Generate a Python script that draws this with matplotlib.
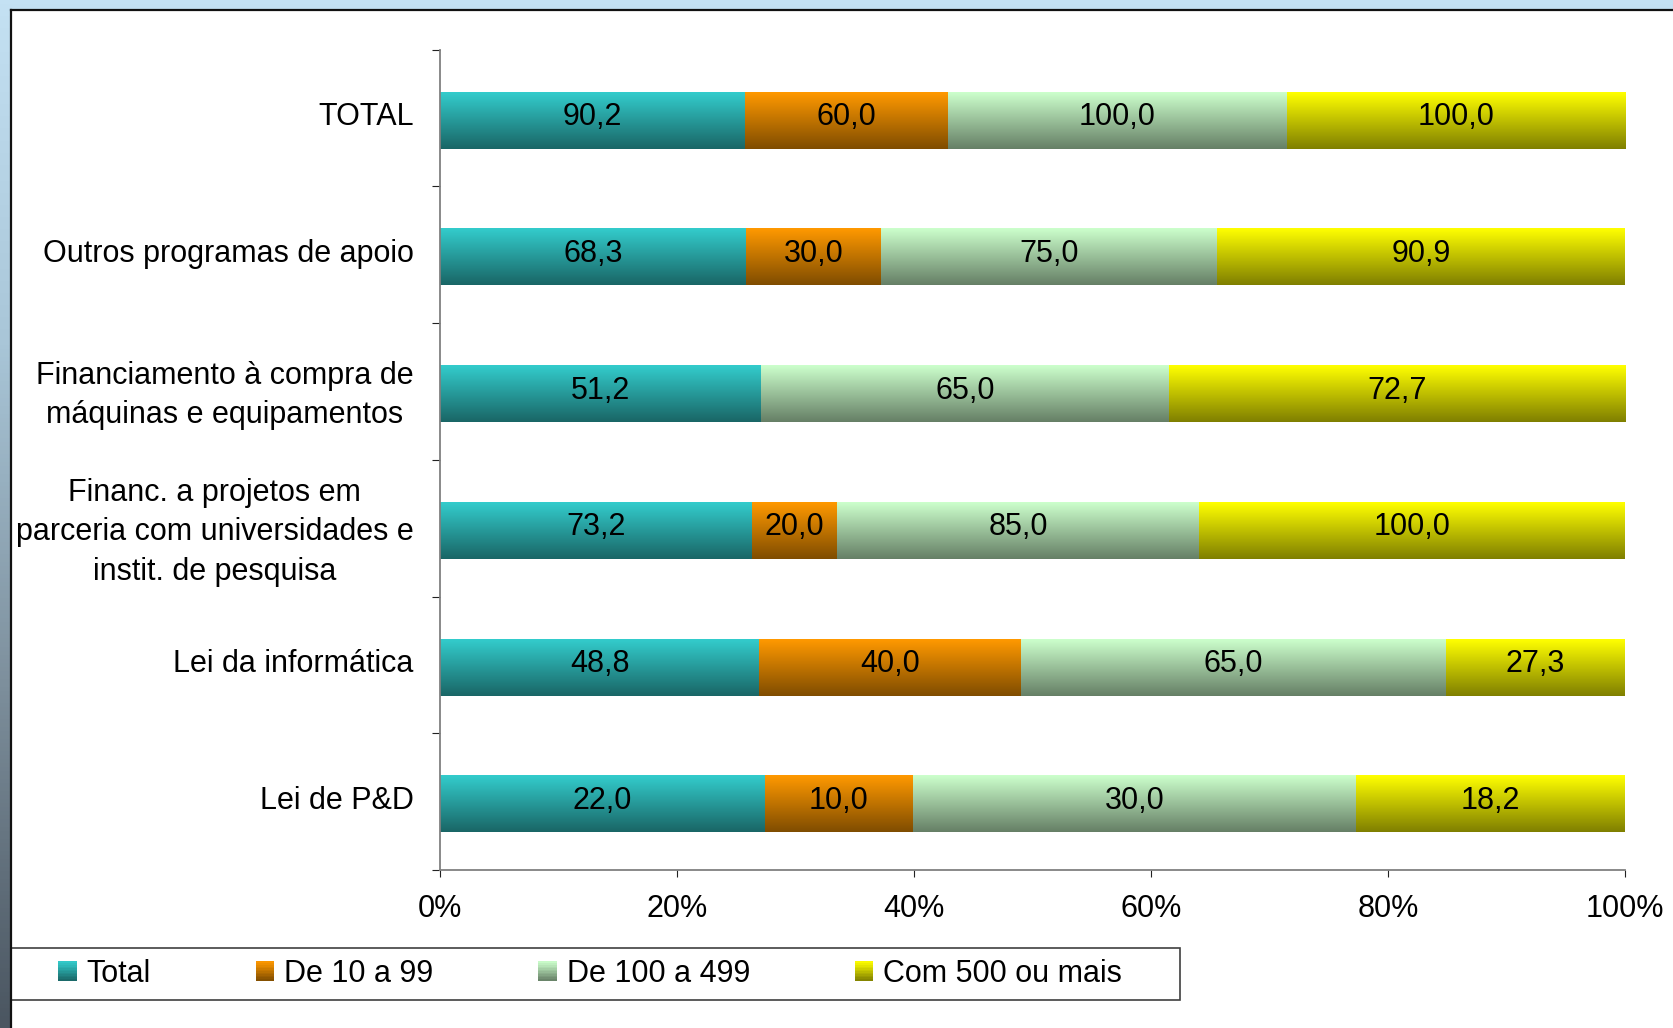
import numpy as np
import matplotlib
matplotlib.use("Agg")
from matplotlib import pyplot as plt, rcParams
from matplotlib.colors import to_rgb, LinearSegmentedColormap
from matplotlib.patches import Rectangle
from matplotlib.legend_handler import HandlerBase

rcParams["font.family"] = ["Liberation Sans", "DejaVu Sans"]
rcParams["font.size"] = 22

# dados (de baixo para cima)
categorias = [
    "Lei de P&D",
    "Lei da informática",
    "Financ. a projetos em\nparceria com universidades e\ninstit. de pesquisa",
    "Financiamento à compra de\nmáquinas e equipamentos",
    "Outros programas de apoio",
    "TOTAL",
]
series = ["Total", "De 10 a 99", "De 100 a 499", "Com 500 ou mais"]
v_total = [22.0, 48.8, 73.2, 51.2, 68.3, 90.2]
v_10_99 = [10.0, 40.0, 20.0, 0.0, 30.0, 60.0]
v_100_499 = [30.0, 65.0, 85.0, 65.0, 75.0, 100.0]
v_500 = [18.2, 27.3, 100.0, 72.7, 90.9, 100.0]
cores = ["#33CCCC", "#FF9900", "#CCFFCC", "#FFFF00"]

W, H = 1674, 1028
fig = plt.figure(figsize=(W / 100, H / 100), dpi=100)

# fundo com moldura
bg = fig.add_axes([0, 0, 1, 1], zorder=-10)
bg.set_axis_off()
cmap_bg = LinearSegmentedColormap.from_list("bg", ["#C4E1F3", "#A9C6D8", "#7D8F9C", "#4A5560"])
bg.imshow(np.linspace(0, 1, 256).reshape(-1, 1), cmap=cmap_bg, extent=(0, 1, 0, 1),
          aspect="auto", origin="upper")
fx, fy = 11 / W, (H - 10) / H
bg.add_patch(Rectangle((fx, 0), 1 - fx, fy, facecolor="white", edgecolor="none"))
bg.plot([fx, 1], [fy, fy], color="#111111", lw=1.6)
bg.plot([fx, fx], [0, fy], color="#111111", lw=1.6)
# caixa da legenda
lx0, lx1 = 11 / W, 1180 / W
ly0, ly1 = 1 - 1000 / H, 1 - 948 / H
bg.add_patch(Rectangle((lx0, ly0), lx1 - lx0, ly1 - ly0, facecolor="white",
                       edgecolor="#404040", lw=1.2))
bg.set_xlim(0, 1)
bg.set_ylim(0, 1)

ax = fig.add_axes([440 / W, 1 - 870 / H, (1625 - 440) / W, (870 - 49.5) / H])
ax.set_facecolor("none")

dados = np.array([v_total, v_10_99, v_100_499, v_500])
pct = dados / dados.sum(axis=0) * 100
pos = np.arange(len(categorias))
y = pos - 0.02
alt = 0.41


def grad_img(c):
    c = np.array(to_rgb(c))
    t = np.linspace(0, 1, 64).reshape(-1, 1)
    return (c * (1 - t) + c * 0.5 * t).reshape(64, 1, 3)


left = np.zeros(len(categorias))
containers = []
for k, nome in enumerate(series):
    bc = ax.barh(y, pct[k], alt, left=left, color=cores[k], label=nome, linewidth=0)
    containers.append(bc)
    img = grad_img(cores[k])
    for p, val in zip(bc.patches, dados[k]):
        x0, y0, w, h = p.get_x(), p.get_y(), p.get_width(), p.get_height()
        if w <= 0:
            continue
        ax.imshow(img, extent=(x0, x0 + w, y0, y0 + h), aspect="auto",
                  origin="upper", zorder=2, interpolation="bilinear")
        ax.text(x0 + w / 2, y0 + h / 2 + 0.025, f"{val:.1f}".replace(".", ","),
                ha="center", va="center", fontsize=22, zorder=3)
    left += pct[k]

ax.set_xlim(0, 100)
ax.set_ylim(-0.5, len(categorias) - 0.5)
ax.set_xticks(np.arange(0, 101, 20))
ax.set_xticklabels([f"{v}%" for v in range(0, 101, 20)])
ax.set_yticks(np.arange(-0.5, len(categorias), 1))
ax.set_yticklabels([])
ax.set_yticks(pos + 0.03, minor=True)
ax.set_yticklabels(categorias, minor=True, multialignment="center", linespacing=1.42)
ax.tick_params(axis="y", which="minor", length=0, pad=19)
ax.tick_params(axis="y", which="major", length=6, color="#222222")
ax.tick_params(axis="x", length=5, color="#222222", pad=12)
for s in ["top", "right"]:
    ax.spines[s].set_visible(False)
for s in ["left", "bottom"]:
    ax.spines[s].set_color("#808080")
    ax.spines[s].set_linewidth(1.3)


class GradHandler(HandlerBase):
    def create_artists(self, legend, orig_handle, xdescent, ydescent, width, height,
                       fontsize, trans):
        c = np.array(to_rgb(orig_handle.get_facecolor()))
        n = 12
        s = height
        x0 = -xdescent + (width - s) / 2
        y0 = -ydescent
        arts = []
        for i in range(n):
            t = 1 - (i + 0.5) / n
            col = c * (1 - t) + c * 0.5 * t
            r = Rectangle((x0, y0 + s * i / n), s, s / n + 0.3, facecolor=col,
                          edgecolor="none", transform=trans)
            arts.append(r)
        return arts


handles = [bc.patches[0] for bc in containers]
leg = ax.legend(handles, series, loc="center", ncol=4, frameon=False,
                bbox_to_anchor=((lx0 + lx1) / 2 - 0.003, (ly0 + ly1) / 2),
                bbox_transform=fig.transFigure,
                handler_map={Rectangle: GradHandler()},
                handlelength=0.56, handleheight=0.56, handletextpad=0.35,
                columnspacing=3.45, fontsize=22, borderpad=0)

fig.savefig("out.png", dpi=100)
